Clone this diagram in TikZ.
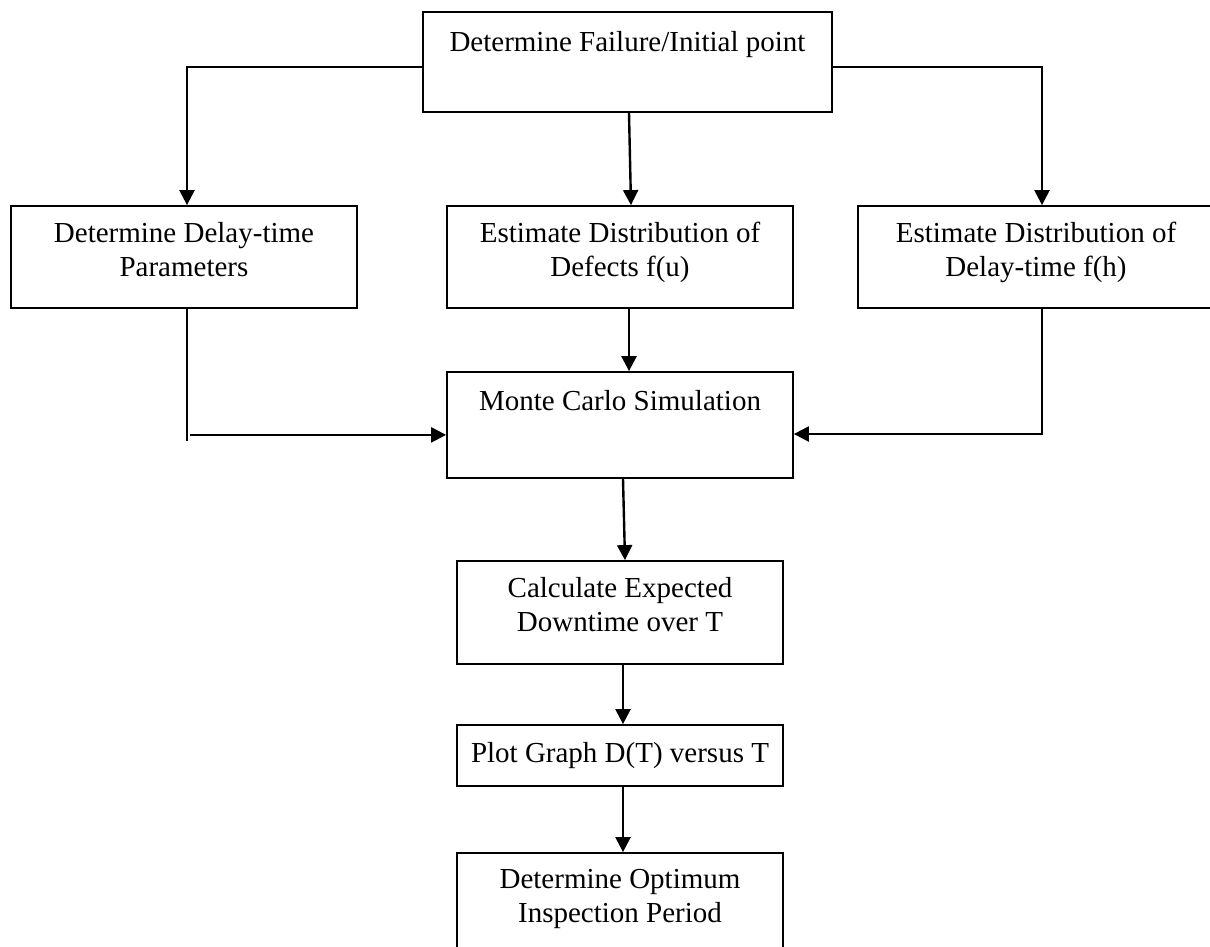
\documentclass[tikz,border=0pt]{standalone}
\usepackage{fontspec}
\setmainfont{Liberation Serif}
\usetikzlibrary{arrows.meta,calc}
\begin{document}
\begin{tikzpicture}[x=1pt,y=-1pt,
  box/.style={draw,line width=1.8pt,rectangle,inner sep=0pt},
  lbl/.style={font=\fontsize{29}{34}\selectfont,align=center,anchor=base,inner sep=0pt},
  link/.style={line width=2pt},
  arr/.style={line width=2.4pt,-{Triangle[length=15pt,width=15pt]}}]
\useasboundingbox[fill=white] (0,0) rectangle (1210,947);

% process boxes
\node[box,minimum width=409pt,minimum height=100pt] (top)  at (627.5,62)  {};
\node[box,minimum width=346pt,minimum height=102pt] (lb)   at (184,257)   {};
\node[box,minimum width=346pt,minimum height=102pt] (mid)  at (620,257)   {};
\node[box,minimum width=356pt,minimum height=102pt] (rb)   at (1036,257)  {};
\node[box,minimum width=346pt,minimum height=106pt] (mc)   at (620,425)   {};
\node[box,minimum width=326pt,minimum height=103pt] (calc) at (620,612.5) {};
\node[box,minimum width=326pt,minimum height=61pt]  (plot) at (620,755.5) {};
\node[box,minimum width=326pt,minimum height=107pt] (opt)  at (620,906.5) {};

% box texts (the base anchor of a two-line text is its last line)
\node[lbl] (ttop)  at ($(top.north)+(0,40)$)  {Determine Failure/Initial point};
\node[lbl] (tlb)   at ($(lb.north)+(0,71)$)   {Determine Delay-time\\Parameters};
\node[lbl] (tmid)  at ($(mid.north)+(0,71)$)  {Estimate Distribution of\\Defects f(u)};
\node[lbl] (trb)   at ($(rb.north)+(0,71)$)   {Estimate Distribution of\\Delay-time f(h)};
\node[lbl] (tmc)   at ($(mc.north)+(0,39)$)   {Monte Carlo Simulation};
\node[lbl] (tcalc) at ($(calc.north)+(0,71)$) {Calculate Expected\\Downtime over T};
\node[lbl] (tplot) at ($(plot.north)+(0,38)$) {Plot Graph D(T) versus T};
\node[lbl] (topt)  at ($(opt.north)+(0,70)$)  {Determine Optimum\\Inspection Period};

% connectors from the top box
\draw[arr] ($(top.north west)+(0,56)$) -| ($(lb.north)+(3,0)$);
\draw[arr] ($(top.north east)+(0,56)$) -| ($(rb.north)+(6,0)$);
\draw[arr] ($(top.south)+(1.5,0)$) -- ($(mid.north)+(11,0)$);

% into the simulation box
\draw[arr] ($(mid.south)+(9,0)$) -- ($(mc.north)+(9,0)$);
\draw[link] ($(lb.south)+(3,0)$) -- ++(0,132);
\coordinate (lj) at ($(lb.south)+(6,126)$);
\draw[arr] (lj) -- (lj -| mc.west);
\draw[arr] ($(rb.south)+(6,0)$) |- ($(mc.east)+(0,9)$);

% downward chain
\draw[arr] ($(mc.south)+(3,0)$) -- ($(calc.north)+(5,0)$);
\draw[arr] ($(calc.south)+(3,0)$) -- ($(plot.north)+(3,0)$);
\draw[arr] ($(plot.south)+(3,0)$) -- ($(opt.north)+(3,0)$);
\end{tikzpicture}
\end{document}
